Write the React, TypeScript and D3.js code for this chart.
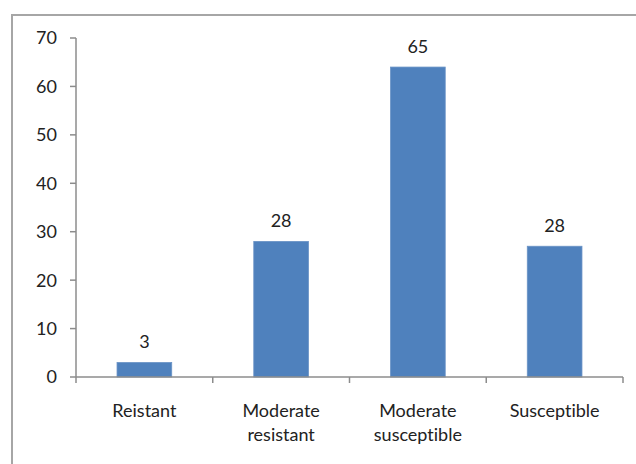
import React, { useEffect, useRef } from 'react';
import * as d3 from 'd3';

const categories = ['Reistant', 'Moderate resistant', 'Moderate susceptible', 'Susceptible'];
const categoryLines = [['Reistant'], ['Moderate', 'resistant'], ['Moderate', 'susceptible'], ['Susceptible']];
const barValues = [3, 28, 64, 27];
const barLabels = ['3', '28', '65', '28'];
const yTicks = [0, 10, 20, 30, 40, 50, 60, 70];

const App: React.FC = () => {
  const svgRef = useRef<SVGSVGElement>(null);

  useEffect(() => {
    if (!svgRef.current) return;
    const svg = d3.select(svgRef.current);
    svg.selectAll('*').remove();

    const width = 636;
    const height = 464;
    const left = 76, right = 623, top = 38, bottom = 377;
    const font = 'Lato, "Open Sans", sans-serif';
    const textColor = '#222';
    const axisColor = '#8c8c8c';
    const fs = '18px';

    svg.attr('width', width).attr('height', height).style('background', 'white');

    // outer chart border
    svg.append('rect')
      .attr('x', 12).attr('y', 15)
      .attr('width', 700).attr('height', 500)
      .attr('fill', 'none')
      .attr('stroke', '#a6a6a6')
      .attr('stroke-width', 2);

    const y = d3.scaleLinear().domain([0, 70]).range([bottom, top]);
    const x = d3.scaleBand<string>()
      .domain(categories)
      .range([left, right])
      .paddingInner(0.6)
      .paddingOuter(0.3);
    const step = (right - left) / categories.length;

    // y axis
    svg.append('line')
      .attr('x1', left).attr('x2', left)
      .attr('y1', top).attr('y2', bottom)
      .attr('stroke', axisColor).attr('stroke-width', 1.5);

    const yt = svg.append('g').selectAll('g').data(yTicks).join('g');
    yt.append('line')
      .attr('x1', left - 6).attr('x2', left)
      .attr('y1', d => y(d)).attr('y2', d => y(d))
      .attr('stroke', axisColor).attr('stroke-width', 1.5);
    yt.append('text')
      .attr('x', left - 19)
      .attr('y', d => y(d))
      .attr('dy', '0.36em')
      .attr('text-anchor', 'end')
      .style('font-family', font)
      .style('font-size', fs)
      .style('fill', textColor)
      .text(d => d);

    // bars
    svg.append('g').selectAll('rect').data(categories).join('rect')
      .attr('x', d => x(d)!)
      .attr('y', (d, i) => y(barValues[i]))
      .attr('width', x.bandwidth())
      .attr('height', (d, i) => bottom - y(barValues[i]))
      .attr('fill', '#4f81bd')
      .attr('stroke', '#6a93c6')
      .attr('stroke-width', 0.8);

    // value labels
    svg.append('g').selectAll('text').data(categories).join('text')
      .attr('x', d => x(d)! + x.bandwidth() / 2)
      .attr('y', (d, i) => y(barValues[i]) - 14)
      .attr('text-anchor', 'middle')
      .style('font-family', font)
      .style('font-size', fs)
      .style('fill', textColor)
      .text((d, i) => barLabels[i]);

    // x axis
    svg.append('line')
      .attr('x1', left).attr('x2', right)
      .attr('y1', bottom).attr('y2', bottom)
      .attr('stroke', axisColor).attr('stroke-width', 1.5);

    svg.append('g').selectAll('line').data(d3.range(categories.length + 1)).join('line')
      .attr('x1', i => left + i * step).attr('x2', i => left + i * step)
      .attr('y1', bottom).attr('y2', bottom + 6)
      .attr('stroke', axisColor).attr('stroke-width', 1.5);

    const cl = svg.append('g').selectAll('text').data(categories).join('text')
      .attr('text-anchor', 'middle')
      .style('font-family', font)
      .style('font-size', fs)
      .style('font-variant-ligatures', 'none')
      .style('fill', textColor);
    cl.selectAll('tspan')
      .data((d, i) => categoryLines[i].map(line => ({ line, cx: x(d)! + x.bandwidth() / 2 })))
      .join('tspan')
      .attr('x', d => d.cx)
      .attr('y', (d, j) => 417 + j * 24)
      .text(d => d.line);
  }, []);

  return (
    <div style={{ position: 'absolute', left: 0, top: 0 }}>
      <svg ref={svgRef} style={{ display: 'block' }}></svg>
    </div>
  );
};

export default App;
